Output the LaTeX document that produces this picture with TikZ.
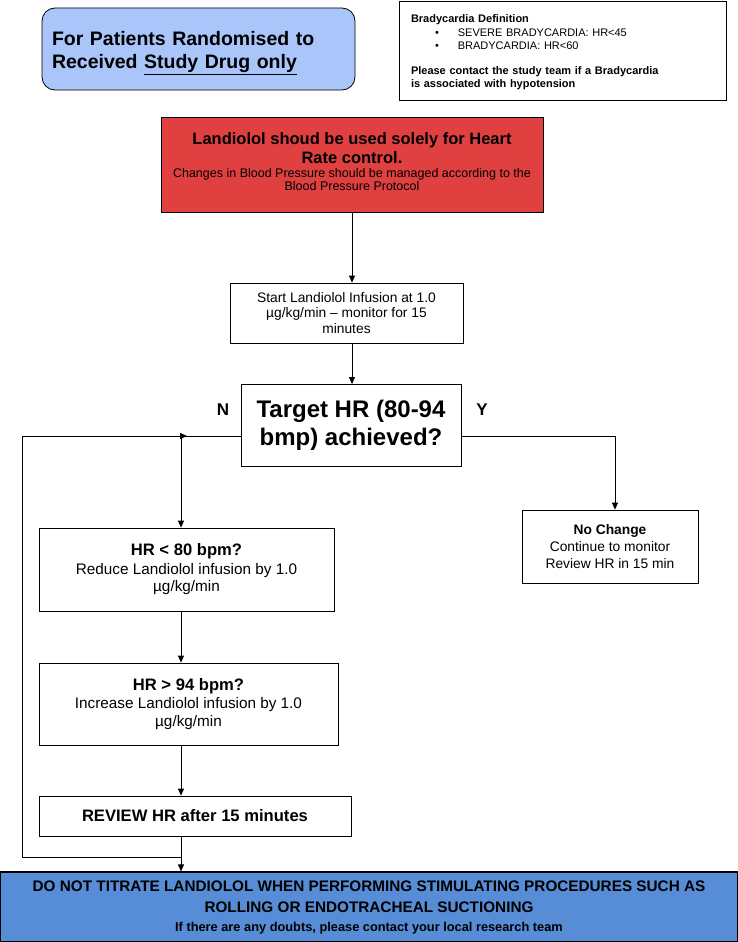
\documentclass[tikz,border=0pt]{standalone}
\usepackage{fontspec}
\setmainfont{Liberation Sans}
\usetikzlibrary{arrows.meta}
\definecolor{lightblue}{RGB}{169,197,250}
\definecolor{redbox}{RGB}{224,64,64}
\definecolor{bluebox}{RGB}{86,141,214}
\newcommand{\fsz}[2]{\fontsize{#1}{#2}\selectfont}
\begin{document}
\begin{tikzpicture}[x=1pt,y=-1pt,
  box/.style={draw, line width=0.8pt, align=center, inner sep=0pt},
  arr/.style={-{Triangle[length=7pt,width=6pt]}, line width=0.8pt},
  ln/.style={line width=0.8pt}]
\useasboundingbox (0,0) rectangle (738,942);
\fill[white] (0,0) rectangle (738,942);

% top left blue rounded box
\node[box, fill=lightblue, rounded corners=13pt, minimum width=313pt, minimum height=82pt]
  (title) at (198.5,49) {};
\node[align=left, text width=293pt, inner sep=0pt, font=\fsz{19.5}{23.5}\bfseries, anchor=center]
  (titletext) at (198.5,53) {For Patients Randomised to\\Received \underline{Study Drug only}};

% bradycardia definition box
\node[box, line width=0.6pt, minimum width=327pt, minimum height=99pt] (brady) at (562.5,50.5) {};
\node[align=left, text width=303pt, inner sep=0pt, font=\fsz{11}{13.5}] (bradytext) at (562.5,52.5)
  {\textbf{Bradycardia Definition}\\
  \hspace*{24pt}•\hspace*{19pt}SEVERE BRADYCARDIA: HR<45\\
  \hspace*{24pt}•\hspace*{19pt}BRADYCARDIA: HR<60\\[11pt]
  \textbf{Please contact the study team if a Bradycardia}\\
  \textbf{is associated with hypotension}};

% red box
\node[box, fill=redbox, minimum width=382pt, minimum height=95pt] (red) at (352,164.5) {};
\node[align=center, inner sep=0pt, font=\fsz{12.5}{13.5}] (redtext) at (352,161.5)
  {\fsz{16.5}{20}\bfseries Landiolol shoud be used solely for Heart\\[3pt]\fsz{16.5}{19}\bfseries Rate control.\\[0pt]
   Changes in Blood Pressure should be managed according to the\\Blood Pressure Protocol};

% start box
\node[box, minimum width=233pt, minimum height=60pt, font=\fsz{13.8}{15.5}] (start) at (346.5,313)
  {Start Landiolol Infusion at 1.0\\µg/kg/min – monitor for 15\\minutes};

% target box
\node[box, minimum width=220pt, minimum height=82pt, font=\fsz{24}{28}\bfseries] (target) at (351,425.5)
  {Target HR (80-94\\bmp) achieved?};

\node[font=\fsz{17}{20}\bfseries] (nlab) at (223,410) {N};
\node[font=\fsz{17}{20}\bfseries] (ylab) at (482,410) {Y};

% no change box
\node[box, minimum width=176pt, minimum height=73pt, font=\fsz{13.8}{17}] (nochange) at (610,546.5)
  {\textbf{No Change}\\Continue to monitor\\Review HR in 15 min};

% HR < 80
\node[box, minimum width=295pt, minimum height=83pt, font=\fsz{15.3}{17.5}] (low) at (186.5,569.5)
  {\fsz{16.6}{18.5}\bfseries HR < 80 bpm?\\[1pt]Reduce Landiolol infusion by 1.0\\µg/kg/min};

% HR > 94
\node[box, minimum width=299pt, minimum height=82pt, font=\fsz{15.3}{17.5}] (high) at (188.5,704)
  {\fsz{16.6}{18.5}\bfseries HR > 94 bpm?\\[1pt]Increase Landiolol infusion by 1.0\\µg/kg/min};

% review
\node[box, minimum width=312pt, minimum height=40pt, font=\fsz{16.6}{19}\bfseries] (review) at (195,816)
  {REVIEW HR after 15 minutes};

% bottom box
\node[box, fill=bluebox, line width=1.2pt, minimum width=737pt, minimum height=70pt, font=\fsz{15.3}{21}\bfseries] (bottom) at (369,907)
  {DO NOT TITRATE LANDIOLOL WHEN PERFORMING STIMULATING PROCEDURES SUCH AS\\
   ROLLING OR ENDOTRACHEAL SUCTIONING\\[-2pt]\fsz{12.8}{15}\bfseries If there are any doubts, please contact your local research team};

% connectors
\coordinate (jn) at (181,436);
\coordinate (lt) at (22,436);
\coordinate (lb) at (22,857);
\coordinate (rb) at (181,857);
\coordinate (yr) at (615,436);
\coordinate (mx) at (352,0);

\draw[arr] (red.south -| mx) -- (start.north -| mx);
\draw[arr] (start.south -| mx) -- (target.north -| mx);
\draw[ln] (target.west |- jn) -- (jn);
\draw[arr] (jn) -- (jn |- low.north);
\draw[arr] (lb) -- (lt) -- ([xshift=6pt]jn);
\draw[arr] (target.east |- yr) -- (yr) -- (yr |- nochange.north);
\draw[arr] (jn |- low.south) -- (jn |- high.north);
\draw[arr] (jn |- high.south) -- (jn |- review.north);
\draw[ln] (lb) -- (rb);
\draw[arr] (jn |- review.south) -- (jn |- bottom.north);
\end{tikzpicture}
\end{document}
